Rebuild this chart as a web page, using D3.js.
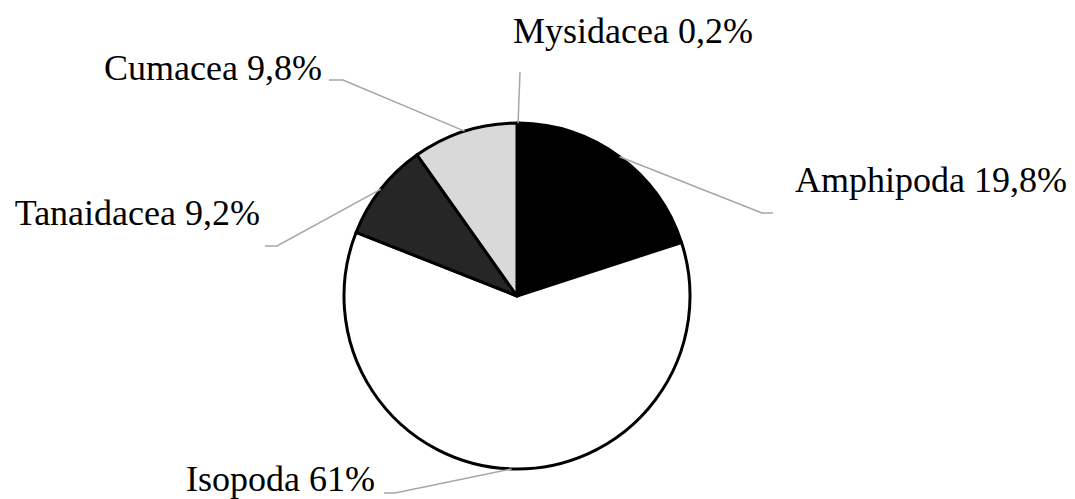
<!DOCTYPE html>
<html lang="en">
<head>
    <meta charset="UTF-8">
    <title>Pie</title>
    <script src="https://cdn.jsdelivr.net/npm/d3@7"></script>
    <style>
        body { margin: 0; background: #fff; }
    </style>
</head>
<body>
    <div id="chart"></div>
    <script>
        // chart data
        const categories = ["Mysidacea", "Amphipoda", "Isopoda", "Tanaidacea", "Cumacea"];
        const values = [0.2, 19.8, 61, 9.2, 9.8];
        const valueLabels = ["0,2%", "19,8%", "61%", "9,2%", "9,8%"];
        const colors = ["#a6a6a6", "#000000", "#ffffff", "#262626", "#d9d9d9"];

        // label layout: elbow of the leader line, end of the short horizontal, text anchor
        const labelPos = [
            { ex: 520, ey: 72, hx: 520, tx: 513, ty: 43, anchor: "start" },
            { ex: 762, ey: 213, hx: 773, tx: 795, ty: 192, anchor: "start" },
            { ex: 395, ey: 493, hx: 384, tx: 375, ty: 491, anchor: "end" },
            { ex: 277, ey: 246, hx: 265, tx: 260, ty: 225, anchor: "end" },
            { ex: 343, ey: 80, hx: 329, tx: 322, ty: 80, anchor: "end" }
        ];

        const width = 1075, height = 499;
        const cx = 517, cy = 296, radius = 173;

        const svg = d3.select("#chart").append("svg")
            .attr("width", width)
            .attr("height", height);

        const g = svg.append("g").attr("transform", `translate(${cx},${cy})`);

        const pie = d3.pie().sort(null).value(d => d)(values);
        const arc = d3.arc().innerRadius(0).outerRadius(radius);

        g.selectAll("path.slice")
            .data(pie)
            .enter()
            .append("path")
            .attr("class", "slice")
            .attr("d", arc)
            .attr("fill", (d, i) => colors[i])
            .attr("stroke", "#000")
            .attr("stroke-width", 3)
            .attr("stroke-linejoin", "round");

        // leader lines start on the rim at the slice's mid angle
        pie.forEach((d, i) => {
            const a = (d.startAngle + d.endAngle) / 2;
            const x0 = cx + radius * Math.sin(a);
            const y0 = cy - radius * Math.cos(a);
            const p = labelPos[i];
            svg.append("polyline")
                .attr("points", `${x0},${y0} ${p.ex},${p.ey} ${p.hx},${p.ey}`)
                .attr("fill", "none")
                .attr("stroke", "#a6a6a6")
                .attr("stroke-width", 1.5);
            svg.append("text")
                .attr("x", p.tx)
                .attr("y", p.ty)
                .attr("text-anchor", p.anchor)
                .attr("font-family", "'Liberation Serif', 'DejaVu Serif', serif")
                .attr("font-size", 36)
                .attr("fill", "#000")
                .text(categories[i] + " " + valueLabels[i]);
        });
    </script>
</body>
</html>
